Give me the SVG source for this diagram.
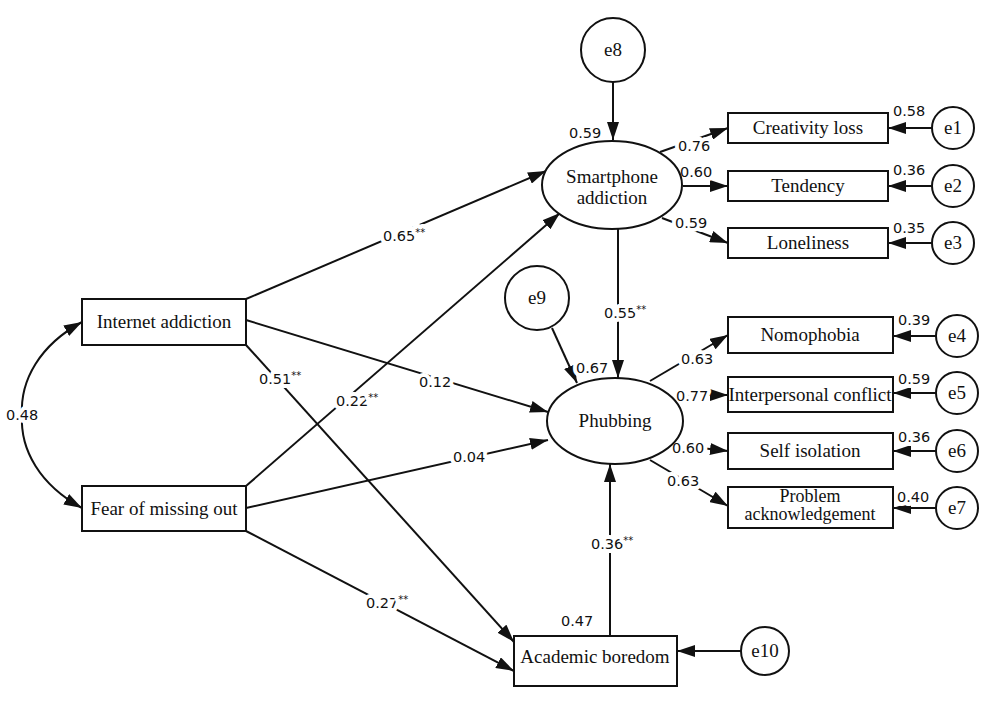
<svg xmlns="http://www.w3.org/2000/svg" width="1000" height="702" viewBox="0 0 1000 702">
<style>
.n{fill:#fff;stroke:#111;stroke-width:2}
.t{font-family:"Liberation Serif",serif;font-size:19px;fill:#111;text-anchor:middle}
.t2{font-size:18px}
.c line,.c path{stroke:#111;stroke-width:2;fill:none}
.l{font-family:"DejaVu Sans",sans-serif;font-size:14.5px;fill:#111;paint-order:stroke;stroke:#fff;stroke-width:8px;stroke-linejoin:round}
.s{font-size:10px}
</style>
<defs>
<marker id="a" markerWidth="18" markerHeight="12" refX="18" refY="6" orient="auto-start-reverse" markerUnits="userSpaceOnUse"><path d="M0,0 L18,6 L0,12 z" fill="#111"/></marker>
</defs>
<rect width="1000" height="702" fill="#fff"/>
<g class="c" id="connectors">
<line x1="613" y1="82" x2="613" y2="140" marker-end="url(#a)"/>
<line x1="246" y1="299" x2="546" y2="171" marker-end="url(#a)"/>
<line x1="246" y1="486" x2="560" y2="213" marker-end="url(#a)"/>
<line x1="246" y1="320" x2="548" y2="412" marker-end="url(#a)"/>
<line x1="246" y1="345" x2="514" y2="642" marker-end="url(#a)"/>
<line x1="246" y1="508" x2="548" y2="440" marker-end="url(#a)"/>
<line x1="246" y1="531" x2="514" y2="671" marker-end="url(#a)"/>
<path d="M82,322 C40,345 20,380 22,415 C20,450 40,485 82,508" marker-start="url(#a)" marker-end="url(#a)"/>
<line x1="618" y1="229" x2="618" y2="378" marker-end="url(#a)"/>
<line x1="552" y1="328" x2="577" y2="383" marker-end="url(#a)"/>
<line x1="610" y1="636" x2="610" y2="464" marker-end="url(#a)"/>
<line x1="741" y1="651" x2="677" y2="651" marker-end="url(#a)"/>
<line x1="660" y1="152" x2="728" y2="128" marker-end="url(#a)"/>
<line x1="683" y1="186" x2="728" y2="186" marker-end="url(#a)"/>
<line x1="662" y1="218" x2="728" y2="243" marker-end="url(#a)"/>
<line x1="932" y1="128" x2="888" y2="128" marker-end="url(#a)"/>
<line x1="932" y1="186" x2="888" y2="186" marker-end="url(#a)"/>
<line x1="932" y1="243" x2="888" y2="243" marker-end="url(#a)"/>
<line x1="650" y1="381" x2="728" y2="335" marker-end="url(#a)"/>
<line x1="683" y1="395" x2="728" y2="395" marker-end="url(#a)"/>
<line x1="683" y1="446" x2="728" y2="451" marker-end="url(#a)"/>
<line x1="650" y1="460" x2="728" y2="506" marker-end="url(#a)"/>
<line x1="936" y1="336" x2="893" y2="336" marker-end="url(#a)"/>
<line x1="936" y1="393" x2="893" y2="393" marker-end="url(#a)"/>
<line x1="936" y1="451" x2="893" y2="451" marker-end="url(#a)"/>
<line x1="936" y1="508" x2="893" y2="508" marker-end="url(#a)"/>
</g>
<g id="labels">
<text class="l" x="383" y="241">0.65<tspan class="s" dy="-5">**</tspan></text>
<text class="l" x="259" y="384">0.51<tspan class="s" dy="-5">**</tspan></text>
<text class="l" x="336" y="406">0.22<tspan class="s" dy="-5">**</tspan></text>
<text class="l" x="419" y="387">0.12</text>
<text class="l" x="453" y="462">0.04</text>
<text class="l" x="6" y="420">0.48</text>
<text class="l" x="366" y="608">0.27<tspan class="s" dy="-5">**</tspan></text>
<text class="l" x="561" y="626">0.47</text>
<text class="l" x="591" y="549">0.36<tspan class="s" dy="-5">**</tspan></text>
<text class="l" x="569" y="138">0.59</text>
<text class="l" x="678" y="151">0.76</text>
<text class="l" x="680" y="177">0.60</text>
<text class="l" x="675" y="228">0.59</text>
<text class="l" x="893" y="116">0.58</text>
<text class="l" x="893" y="175">0.36</text>
<text class="l" x="893" y="233">0.35</text>
<text class="l" x="604" y="318">0.55<tspan class="s" dy="-5">**</tspan></text>
<text class="l" x="576" y="373">0.67</text>
<text class="l" x="681" y="364">0.63</text>
<text class="l" x="676" y="401">0.77</text>
<text class="l" x="672" y="453">0.60</text>
<text class="l" x="667" y="486">0.63</text>
<text class="l" x="898" y="325">0.39</text>
<text class="l" x="898" y="384">0.59</text>
<text class="l" x="898" y="442">0.36</text>
<text class="l" x="897" y="502">0.40</text>
</g>
<g id="e8"><circle class="n" cx="613" cy="50" r="32"/><text class="t" x="613" y="56">e8</text></g>
<g id="smartphone"><ellipse class="n" cx="612" cy="185" rx="70" ry="44"/><text class="t" x="612" y="183">Smartphone</text><text class="t" x="612" y="204">addiction</text></g>
<g id="creativity"><rect class="n" x="728" y="113" width="160" height="30"/><text class="t" x="808" y="134">Creativity loss</text></g>
<g id="tendency"><rect class="n" x="728" y="171" width="160" height="30"/><text class="t" x="808" y="192">Tendency</text></g>
<g id="loneliness"><rect class="n" x="728" y="228" width="160" height="30"/><text class="t" x="808" y="249">Loneliness</text></g>
<g id="e1"><circle class="n" cx="953" cy="128" r="21"/><text class="t" x="953" y="134">e1</text></g>
<g id="e2"><circle class="n" cx="953" cy="186" r="21"/><text class="t" x="953" y="192">e2</text></g>
<g id="e3"><circle class="n" cx="953" cy="243" r="21"/><text class="t" x="953" y="249">e3</text></g>
<g id="e9"><circle class="n" cx="537" cy="298" r="32"/><text class="t" x="537" y="304">e9</text></g>
<g id="phubbing"><ellipse class="n" cx="615" cy="421" rx="68" ry="43"/><text class="t" x="615" y="427">Phubbing</text></g>
<g id="nomophobia"><rect class="n" x="728" y="317" width="165" height="36"/><text class="t" x="810" y="341">Nomophobia</text></g>
<g id="conflict"><rect class="n" x="728" y="377" width="165" height="35"/><text class="t" x="810" y="401">Interpersonal conflict</text></g>
<g id="isolation"><rect class="n" x="728" y="433" width="165" height="36"/><text class="t" x="810" y="457">Self isolation</text></g>
<g id="problem"><rect class="n" x="728" y="487" width="165" height="41"/><text class="t t2" x="810" y="502">Problem</text><text class="t t2" x="810" y="520">acknowledgement</text></g>
<g id="e4"><circle class="n" cx="957" cy="336" r="21"/><text class="t" x="957" y="342">e4</text></g>
<g id="e5"><circle class="n" cx="957" cy="393" r="21"/><text class="t" x="957" y="399">e5</text></g>
<g id="e6"><circle class="n" cx="957" cy="451" r="21"/><text class="t" x="957" y="457">e6</text></g>
<g id="e7"><circle class="n" cx="957" cy="508" r="21"/><text class="t" x="957" y="514">e7</text></g>
<g id="internet"><rect class="n" x="82" y="299" width="164" height="46"/><text class="t" x="164" y="328">Internet addiction</text></g>
<g id="fomo"><rect class="n" x="82" y="486" width="164" height="45"/><text class="t" x="164" y="515">Fear of missing out</text></g>
<g id="boredom"><rect class="n" x="514" y="636" width="163" height="50"/><text class="t" x="595" y="663">Academic boredom</text></g>
<g id="e10"><circle class="n" cx="765" cy="651" r="24"/><text class="t" x="765" y="657">e10</text></g>
</svg>
